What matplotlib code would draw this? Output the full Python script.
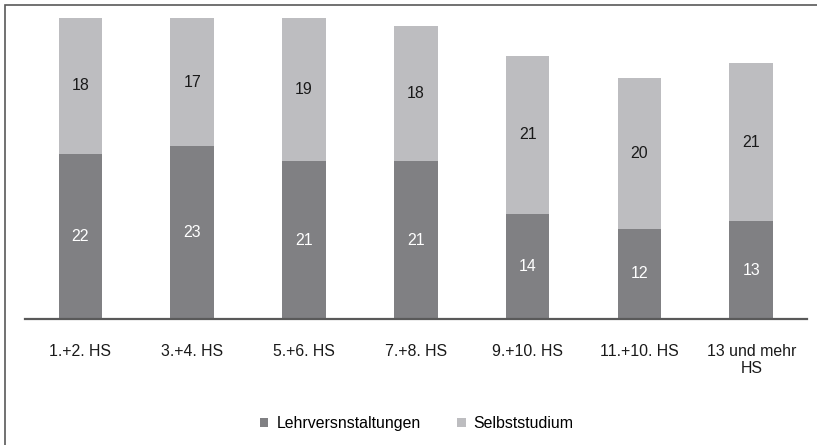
import matplotlib.pyplot as plt
from matplotlib.patches import Rectangle

categories = ['1.+2. HS', '3.+4. HS', '5.+6. HS', '7.+8. HS',
              '9.+10. HS', '11.+10. HS', '13 und mehr\nHS']
lehr = [22, 23, 21, 21, 14, 12, 13]
selbst = [18, 17, 19, 18, 21, 20, 21]

plt.rcParams['font.family'] = ['Liberation Sans', 'DejaVu Sans']

dark = '#808083'
light = '#bdbdc0'
fs = 11.4

fig = plt.figure(figsize=(8.17, 4.45), dpi=100)
ax = fig.add_axes([0.030, 0.283, 0.958, 0.676])

x = range(len(categories))
b1 = ax.bar(x, lehr, width=0.39, color=dark, label='Lehrversnstaltungen')
b2 = ax.bar(x, selbst, width=0.39, bottom=lehr, color=light, label='Selbststudium')

for i in x:
    ax.text(i, lehr[i] / 2, str(lehr[i]), ha='center', va='center',
            color='white', fontsize=fs)
    ax.text(i, lehr[i] + selbst[i] / 2, str(selbst[i]), ha='center',
            va='center', color='#1a1a1a', fontsize=fs)

ax.set_xlim(-0.5, len(categories) - 0.5)
ax.set_ylim(0, 40)
ax.set_xticks(list(x))
ax.set_xticklabels(categories, fontsize=fs, color='#1a1a1a', linespacing=1.15)
ax.tick_params(axis='x', length=0, pad=18)
ax.set_yticks([])
for s in ['top', 'right', 'left']:
    ax.spines[s].set_visible(False)
ax.spines['bottom'].set_color('#595959')
ax.spines['bottom'].set_linewidth(1.6)

fig.legend(handles=[b1, b2], loc='center', bbox_to_anchor=(0.51, 0.048),
           ncol=2, frameon=False, fontsize=fs, handlelength=0.55,
           handleheight=0.55, columnspacing=2.3, handletextpad=0.5)

# outer border (left and top visible)
fig.add_artist(Rectangle((0.006, -0.05), 1.1, 1.039, transform=fig.transFigure,
                         fill=False, edgecolor='#595959', linewidth=1.2))

fig.savefig('out.png', dpi=100)
